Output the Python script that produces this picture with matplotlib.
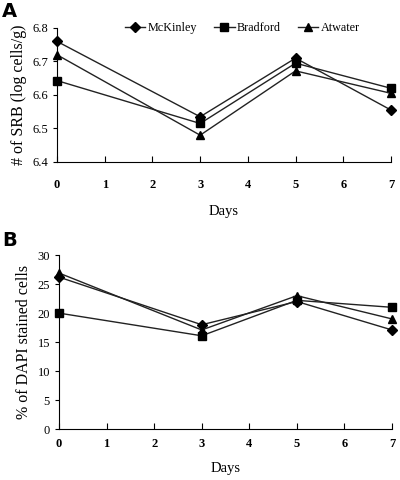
import matplotlib
matplotlib.use("Agg")
import matplotlib.pyplot as plt

days = [0, 3, 5, 7]
series_names = ["McKinley", "Bradford", "Atwater"]
markers = ["D", "s", "^"]

srb_mckinley = [6.76, 6.535, 6.71, 6.555]
srb_bradford = [6.643, 6.515, 6.695, 6.62]
srb_atwater = [6.72, 6.48, 6.672, 6.605]

dapi_mckinley = [26.2, 18.0, 22.0, 17.1]
dapi_bradford = [20.0, 16.1, 22.2, 21.0]
dapi_atwater = [26.9, 17.1, 23.0, 19.0]

xticks = list(range(0, 8))
srb_yticks = [6.4, 6.5, 6.6, 6.7, 6.8]
dapi_yticks = [0, 5, 10, 15, 20, 25, 30]

plt.rcParams['font.family'] = ['Liberation Serif', 'DejaVu Serif']

fig = plt.figure(figsize=(4, 4.8), dpi=100)
axA = fig.add_axes([0.1425, 0.6625, 0.835, 0.2792])
axB = fig.add_axes([0.1475, 0.1056, 0.8325, 0.3631])

def style(ax, yticks, ylabel, ylim, xpad, xlabpad):
    ax.set_xlim(0, 7)
    ax.set_ylim(*ylim)
    ax.set_xticks(xticks)
    ax.set_yticks(yticks)
    ax.set_yticklabels([("%g" % v) if isinstance(v, int) else ("%.1f" % v) for v in yticks])
    ax.spines['top'].set_visible(False)
    ax.spines['right'].set_visible(False)
    ax.tick_params(axis='x', direction='in', length=4, labelsize=9, pad=xpad)
    ax.tick_params(axis='y', direction='out', length=3, labelsize=9)
    for lab in ax.get_xticklabels():
        lab.set_fontweight('bold')
    ax.set_xlabel("Days", fontsize=10.5, labelpad=xlabpad)
    ax.set_ylabel(ylabel, fontsize=11.5, labelpad=4)

srb = [srb_mckinley, srb_bradford, srb_atwater]
dapi = [dapi_mckinley, dapi_bradford, dapi_atwater]
ms = [5.5, 5.5, 6]
for name, mk, vals, m in zip(series_names, markers, srb, ms):
    axA.plot(days, vals, color='#222222', lw=1.0, marker=mk, ms=m,
             mfc='black', mec='black', clip_on=False, label=name)
for name, mk, vals, m in zip(series_names, markers, dapi, ms):
    axB.plot(days, vals, color='#222222', lw=1.0, marker=mk, ms=m,
             mfc='black', mec='black', clip_on=False, label=name)

style(axA, srb_yticks, "# of SRB (log cells/g)", (6.4, 6.8), 12, 10)
style(axB, dapi_yticks, "% of DAPI stained cells", (0, 30), 6, 9)

axA.legend(loc='center', bbox_to_anchor=(0.555, 1.0), ncol=3, frameon=False,
           fontsize=8.7, handlelength=1.7, handletextpad=0.2, columnspacing=1.4)

fig.text(0.005, 0.995, "A", fontsize=14, fontweight='bold', family='DejaVu Sans',
         ha='left', va='top')
fig.text(0.005, 0.518, "B", fontsize=14, fontweight='bold', family='DejaVu Sans',
         ha='left', va='top')

fig.savefig("out.png", dpi=100)
